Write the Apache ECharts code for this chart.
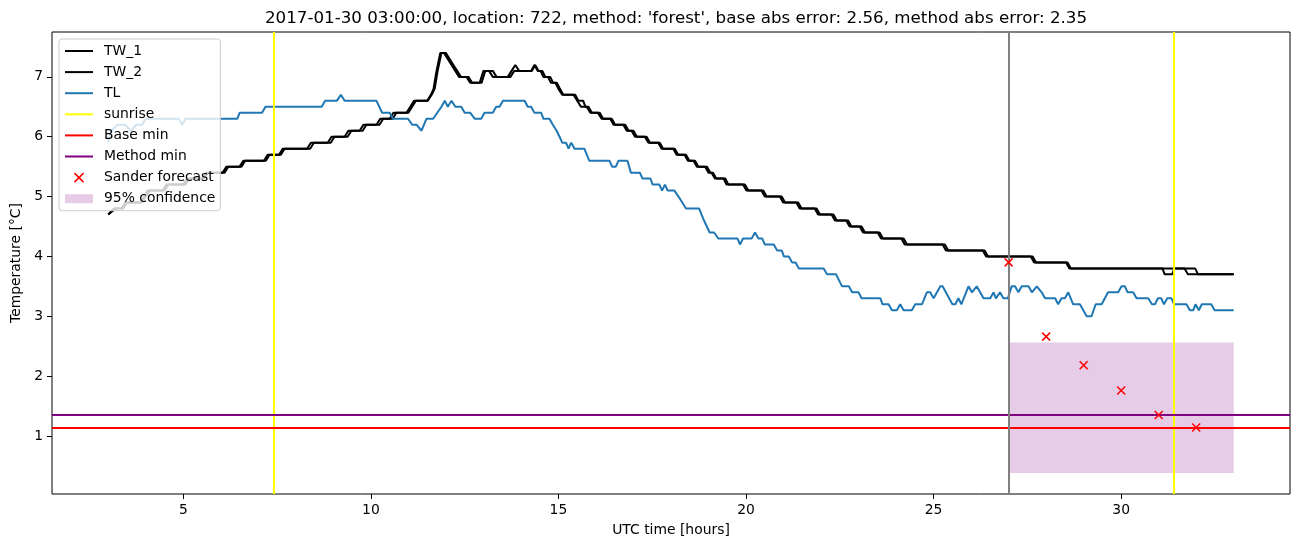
<!DOCTYPE html>
<html>
<head>
<meta charset="utf-8">
<script src="https://cdn.jsdelivr.net/npm/echarts@6/dist/echarts.min.js"></script>
<style>html,body{margin:0;padding:0;background:#fff;}#c{width:1302px;height:547px;}</style>
</head>
<body>
<div id="c"></div>
<script>
// ---- data ----
const titleText = "2017-01-30 03:00:00, location: 722, method: 'forest', base abs error: 2.56, method abs error: 2.35";
const xTicks = [5, 10, 15, 20, 25, 30];
const yTicks = [1, 2, 3, 4, 5, 6, 7];

const tw1Time = [3.0,3.15,3.35,3.45,3.85,3.95,4.05,4.45,4.55,5.0,5.1,5.5,5.6,6.05,6.15,6.5,6.6,7.15,7.25,7.55,7.65,8.3,8.4,8.85,8.95,9.3,9.4,9.7,9.8,10.15,10.25,10.5,10.6,10.95,11.05,11.15,11.5,11.6,11.67,11.75,11.85,11.95,12.05,12.15,12.25,12.35,12.55,12.65,12.9,13.0,13.15,13.25,13.65,13.75,13.85,13.95,14.27,14.36,14.45,14.52,14.6,14.72,14.8,14.92,15.0,15.1,15.4,15.5,15.6,15.75,15.85,16.05,16.15,16.38,16.47,16.73,16.82,16.95,17.04,17.3,17.4,17.66,17.75,18.06,18.15,18.36,18.45,18.6,18.69,18.91,19.0,19.08,19.17,19.4,19.48,19.92,20.01,20.41,20.5,20.9,20.99,21.34,21.43,21.83,21.92,22.28,22.37,22.67,22.76,23.03,23.12,23.51,23.6,24.14,24.23,25.24,25.33,26.31,26.4,27.59,27.68,28.53,28.62,31.69,31.78,33.0];
const tw1Val  = [4.7,4.8,4.8,4.9,4.9,5.0,5.1,5.1,5.2,5.2,5.3,5.3,5.4,5.4,5.5,5.5,5.6,5.6,5.7,5.7,5.8,5.8,5.9,5.9,6.0,6.0,6.1,6.1,6.2,6.2,6.3,6.3,6.4,6.4,6.5,6.6,6.6,6.7,6.8,7.1,7.4,7.4,7.3,7.2,7.1,7.0,7.0,6.9,6.9,7.1,7.1,7.0,7.0,7.1,7.2,7.1,7.1,7.2,7.1,7.1,7.0,7.0,6.9,6.9,6.8,6.7,6.7,6.6,6.5,6.5,6.4,6.4,6.3,6.3,6.2,6.2,6.1,6.1,6.0,6.0,5.9,5.9,5.8,5.8,5.7,5.7,5.6,5.6,5.5,5.5,5.4,5.4,5.3,5.3,5.2,5.2,5.1,5.1,5.0,5.0,4.9,4.9,4.8,4.8,4.7,4.7,4.6,4.6,4.5,4.5,4.4,4.4,4.3,4.3,4.2,4.2,4.1,4.1,4.0,4.0,3.9,3.9,3.8,3.8,3.7,3.7];

const tw2Time = [3.0,3.2,3.4,3.5,3.9,4.0,4.1,4.5,4.6,5.05,5.15,5.55,5.65,6.1,6.2,6.55,6.65,7.2,7.3,7.6,7.7,8.38,8.48,8.93,9.03,9.38,9.48,9.78,9.88,10.23,10.33,10.58,10.68,11.0,11.1,11.2,11.52,11.62,11.7,11.78,11.88,12.0,12.1,12.2,12.3,12.4,12.6,12.7,12.95,13.05,13.25,13.35,13.72,13.82,14.29,14.38,14.47,14.57,14.65,14.78,14.86,14.96,15.04,15.13,15.45,15.53,15.66,15.72,15.8,15.89,16.1,16.19,16.42,16.51,16.78,16.87,17.0,17.09,17.35,17.44,17.7,17.79,18.1,18.19,18.4,18.49,18.64,18.73,18.96,19.05,19.12,19.21,19.45,19.53,19.97,20.06,20.46,20.55,20.95,21.04,21.39,21.48,21.88,21.97,22.33,22.42,22.72,22.81,23.08,23.17,23.56,23.65,24.2,24.29,25.3,25.39,26.36,26.45,27.64,27.73,28.57,28.66,31.1,31.16,31.36,31.42,31.97,32.05,33.0];
const tw2Val  = [4.7,4.8,4.8,4.9,4.9,5.0,5.1,5.1,5.2,5.2,5.3,5.3,5.4,5.4,5.5,5.5,5.6,5.6,5.7,5.7,5.8,5.8,5.9,5.9,6.0,6.0,6.1,6.1,6.2,6.2,6.3,6.3,6.4,6.4,6.5,6.6,6.6,6.7,6.8,7.1,7.4,7.4,7.3,7.2,7.1,7.0,7.0,6.9,6.9,7.1,7.1,7.0,7.0,7.1,7.1,7.2,7.1,7.1,7.0,7.0,6.9,6.9,6.8,6.7,6.7,6.6,6.6,6.5,6.5,6.4,6.4,6.3,6.3,6.2,6.2,6.1,6.1,6.0,6.0,5.9,5.9,5.8,5.8,5.7,5.7,5.6,5.6,5.5,5.5,5.4,5.4,5.3,5.3,5.2,5.2,5.1,5.1,5.0,5.0,4.9,4.9,4.8,4.8,4.7,4.7,4.6,4.6,4.5,4.5,4.4,4.4,4.3,4.3,4.2,4.2,4.1,4.1,4.0,4.0,3.9,3.9,3.8,3.8,3.7,3.7,3.8,3.8,3.7,3.7];

const tlTime = [3.0,3.08,3.25,3.45,3.6,3.75,3.9,4.0,4.88,4.97,5.06,6.44,6.5,7.1,7.19,8.69,8.78,9.09,9.2,9.3,10.15,10.3,10.5,10.59,10.99,11.1,11.22,11.35,11.48,11.66,11.88,11.97,12.05,12.15,12.25,12.41,12.5,12.65,12.77,12.94,13.03,13.25,13.34,13.43,13.52,14.1,14.18,14.27,14.36,14.54,14.6,14.76,14.85,14.95,15.03,15.1,15.2,15.27,15.34,15.43,15.69,15.82,16.36,16.43,16.53,16.6,16.84,16.93,17.17,17.24,17.45,17.51,17.69,17.76,17.84,17.91,18.09,18.2,18.3,18.4,18.75,18.88,19.03,19.15,19.26,19.77,19.84,19.92,20.15,20.24,20.33,20.43,20.5,20.74,20.83,20.95,21.01,21.14,21.23,21.32,21.41,22.07,22.16,22.4,22.56,22.74,22.83,23.0,23.08,23.58,23.64,23.8,23.89,24.02,24.11,24.2,24.42,24.51,24.69,24.82,24.91,25.0,25.18,25.24,25.5,25.58,25.66,25.74,25.93,26.02,26.15,26.33,26.51,26.6,26.66,26.77,26.86,26.98,27.08,27.17,27.26,27.35,27.53,27.62,27.75,27.88,27.97,28.24,28.32,28.41,28.5,28.59,28.72,28.9,29.08,29.21,29.32,29.48,29.65,29.92,30.01,30.1,30.17,30.32,30.41,30.72,30.82,30.9,30.98,31.07,31.14,31.23,31.34,31.41,31.74,31.83,31.92,31.98,32.07,32.15,32.4,32.49,33.0];
const tlVal  = [5.9,6.1,6.2,6.2,6.1,6.2,6.2,6.3,6.3,6.2,6.3,6.3,6.4,6.4,6.5,6.5,6.6,6.6,6.7,6.6,6.6,6.4,6.4,6.3,6.3,6.2,6.2,6.1,6.3,6.3,6.5,6.6,6.5,6.6,6.5,6.5,6.4,6.4,6.3,6.3,6.4,6.4,6.5,6.5,6.6,6.6,6.5,6.5,6.4,6.4,6.3,6.3,6.2,6.1,6.0,5.9,5.9,5.8,5.9,5.8,5.8,5.6,5.6,5.5,5.5,5.6,5.6,5.4,5.4,5.3,5.3,5.2,5.2,5.1,5.2,5.1,5.1,5.0,4.9,4.8,4.8,4.6,4.4,4.4,4.3,4.3,4.2,4.3,4.3,4.4,4.3,4.3,4.2,4.2,4.1,4.1,4.0,4.0,3.9,3.9,3.8,3.8,3.7,3.7,3.5,3.5,3.4,3.4,3.3,3.3,3.2,3.2,3.1,3.1,3.2,3.1,3.1,3.2,3.2,3.4,3.4,3.3,3.5,3.5,3.2,3.2,3.3,3.2,3.5,3.4,3.5,3.3,3.3,3.4,3.3,3.4,3.3,3.3,3.5,3.5,3.4,3.5,3.5,3.4,3.5,3.4,3.3,3.3,3.2,3.3,3.3,3.4,3.2,3.2,3.0,3.0,3.2,3.2,3.4,3.4,3.5,3.5,3.4,3.4,3.3,3.3,3.2,3.2,3.3,3.3,3.2,3.3,3.3,3.2,3.2,3.1,3.1,3.2,3.1,3.2,3.2,3.1,3.1];

const sunriseHours = [7.42, 31.41];
const forecastTime = [27, 28, 29, 30, 31, 32];
const forecastVal  = [3.9, 2.66, 2.18, 1.76, 1.35, 1.14];
const baseMin = 1.14;
const methodMin = 1.35;
const forecastStart = 27;
const confTime = [27, 33];
const confLow = 0.38;
const confHigh = 2.56;
const xRange = [1.5, 34.5];
const yRange = [0.03, 7.75];

// ---- chart ----
const FONT = "DejaVu Sans";
const zip = (a, b) => a.map((t, i) => [t, b[i]]);
const xMark = 'path://M0,0L10,10M10,0L0,10';
const lineIcon = 'path://M0,0L28,0L28,2L0,2Z';
const CONF_COLOR = 'rgba(128,0,128,0.2)';

const chart = echarts.init(document.getElementById('c'), null, {renderer: 'canvas'});
const lineSeries = (name, t, v, color, z) => ({
  name, type: 'line', data: zip(t, v), symbol: 'none', showSymbol: false,
  lineStyle: {color, width: 2}, itemStyle: {color}, z, animation: false
});
const legendLine = (name, color) => ({name, icon: lineIcon, itemStyle: {color, borderWidth: 0}});

chart.setOption({
  animation: false,
  backgroundColor: '#ffffff',
  textStyle: {fontFamily: FONT},
  title: {
    text: titleText, left: 671, top: 5, textAlign: 'center',
    textStyle: {fontFamily: FONT, fontSize: 16.7, fontWeight: 'normal', color: '#000'}
  },
  grid: {left: 52, top: 32, width: 1238, height: 462, show: true, borderColor: '#000', borderWidth: 1, backgroundColor: 'transparent'},
  xAxis: {
    type: 'value', min: xRange[0], max: xRange[1],
    name: 'UTC time [hours]', nameLocation: 'middle', nameGap: 29,
    nameTextStyle: {fontFamily: FONT, fontSize: 13.9, color: '#000', verticalAlign: 'top'},
    axisLine: {show: false},
    axisTick: {show: true, inside: false, length: 5, lineStyle: {color: '#000', width: 1}, customValues: xTicks},
    axisLabel: {fontFamily: FONT, fontSize: 13.9, color: '#000', margin: 9, customValues: xTicks},
    splitLine: {show: false}
  },
  yAxis: {
    type: 'value', min: yRange[0], max: yRange[1],
    name: 'Temperature [°C]', nameLocation: 'middle', nameGap: 24, nameRotate: 90,
    nameTextStyle: {fontFamily: FONT, fontSize: 13.9, color: '#000'},
    axisLine: {show: false},
    axisTick: {show: true, inside: false, length: 5, lineStyle: {color: '#000', width: 1}, customValues: yTicks},
    axisLabel: {fontFamily: FONT, fontSize: 13.9, color: '#000', margin: 9, customValues: yTicks},
    splitLine: {show: false}
  },
  legend: {
    orient: 'vertical', left: 59, top: 39,
    padding: [4, 5, 4, 6], itemGap: 5.1, itemWidth: 28, itemHeight: 9, symbolKeepAspect: true,
    backgroundColor: 'rgba(255,255,255,0.8)', borderColor: '#cccccc', borderWidth: 1, borderRadius: 3,
    textStyle: {fontFamily: FONT, fontSize: 13.9, color: '#000', lineHeight: 16, padding: [0, 0, 0, 6]},
    selectedMode: false,
    data: [
      legendLine('TW_1', '#000000'), legendLine('TW_2', '#000000'), legendLine('TL', '#1f77b4'),
      legendLine('sunrise', '#ffff00'), legendLine('Base min', '#ff0000'), legendLine('Method min', '#800080'),
      {name: 'Sander forecast', icon: xMark, itemStyle: {color: '#ff0000', borderColor: '#ff0000', borderWidth: 1.5, opacity: 1}},
      {name: '95% confidence', icon: 'rect', itemStyle: {color: CONF_COLOR}}
    ],
    z: 20
  },
  series: [
    {
      name: '95% confidence', type: 'line', data: [], z: 1,
      itemStyle: {color: CONF_COLOR}, lineStyle: {color: CONF_COLOR},
      markArea: {silent: true, itemStyle: {color: CONF_COLOR},
        data: [[{coord: [confTime[0], confLow]}, {coord: [confTime[1], confHigh]}]]}
    },
    lineSeries('TW_1', tw1Time, tw1Val, '#000000', 3),
    lineSeries('TW_2', tw2Time, tw2Val, '#000000', 3),
    lineSeries('TL', tlTime, tlVal, '#1f77b4', 4),
    {
      name: 'sunrise', type: 'line', data: [], z: 5, symbol: 'none',
      itemStyle: {color: '#ffff00'}, lineStyle: {color: '#ffff00', width: 2},
      markLine: {silent: true, symbol: ['none', 'none'], label: {show: false},
        lineStyle: {color: '#ffff00', width: 2, type: 'solid'},
        data: sunriseHours.map(h => ({xAxis: h}))}
    },
    {
      name: 'Base min', type: 'line', data: [], z: 5, symbol: 'none',
      itemStyle: {color: '#ff0000'}, lineStyle: {color: '#ff0000', width: 2},
      markLine: {silent: true, symbol: ['none', 'none'], label: {show: false},
        lineStyle: {color: '#ff0000', width: 2, type: 'solid'},
        data: [{yAxis: baseMin}]}
    },
    {
      name: 'Method min', type: 'line', data: [], z: 5, symbol: 'none',
      itemStyle: {color: '#800080'}, lineStyle: {color: '#800080', width: 2},
      markLine: {silent: true, symbol: ['none', 'none'], label: {show: false},
        lineStyle: {color: '#800080', width: 2, type: 'solid'},
        data: [{yAxis: methodMin}]}
    },
    {
      name: 'forecast start', type: 'line', data: [], z: 5, symbol: 'none',
      markLine: {silent: true, symbol: ['none', 'none'], label: {show: false},
        lineStyle: {color: '#808080', width: 2, type: 'solid'},
        data: [{xAxis: forecastStart}]}
    },
    {
      name: 'Sander forecast', type: 'scatter', data: zip(forecastTime, forecastVal), z: 6,
      symbol: xMark, symbolSize: 8, symbolKeepAspect: true,
      itemStyle: {color: '#ff0000', borderColor: '#ff0000', borderWidth: 1.5, opacity: 1}
    }
  ]
});
</script>
</body>
</html>
